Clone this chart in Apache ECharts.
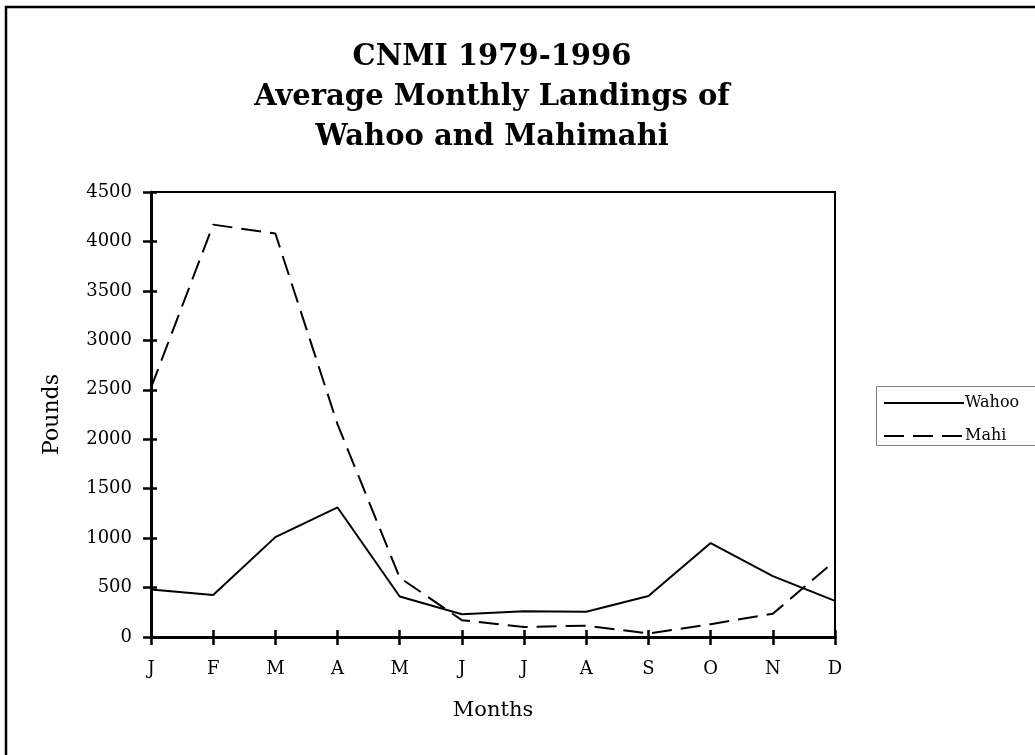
<!DOCTYPE html>
<html>
<head>
<meta charset="utf-8">
<script src="https://cdn.jsdelivr.net/npm/echarts@6/dist/echarts.min.js"></script>
</head>
<body style="margin:0;background:#fff">
<div id="main" style="width:1035px;height:755px;"></div>
<script type="text/javascript">
// data (pounds)
var months = ['J', 'F', 'M', 'A', 'M', 'J', 'J', 'A', 'S', 'O', 'N', 'D'];
var wahoo = [480, 425, 1010, 1310, 410, 230, 260, 255, 415, 950, 615, 365];
var mahi = [2520, 4170, 4080, 2150, 600, 170, 100, 115, 35, 130, 235, 770];
var yMin = 0, yMax = 4500, yStep = 500;

var chart = echarts.init(document.getElementById('main'));
var font = 'DejaVu Serif';

var option = {
    animation: false,
    backgroundColor: '#fff',
    title: {
        text: 'CNMI 1979-1996\nAverage Monthly Landings of\nWahoo and Mahimahi',
        left: 492,
        top: 37,
        padding: 0,
        textAlign: 'center',
        textStyle: {
            fontFamily: font,
            fontSize: 29,
            fontWeight: 'bold',
            lineHeight: 40,
            color: '#000'
        }
    },
    legend: {
        orient: 'vertical',
        left: 883,
        top: 395,
        padding: 0,
        itemWidth: 80,
        itemHeight: 14,
        itemGap: 17,
        itemStyle: { opacity: 0 },
        textStyle: { fontFamily: font, fontSize: 16, color: '#000', padding: [0, 0, 0, -4] },
        data: ['Wahoo', 'Mahi']
    },
    grid: {
        left: 151, right: 200, top: 192, bottom: 118,
        show: true,
        borderColor: '#000',
        borderWidth: 2
    },
    xAxis: [{
        type: 'category',
        data: months,
        boundaryGap: false,
        name: 'Months',
        nameLocation: 'middle',
        nameGap: 63,
        nameTextStyle: { fontFamily: font, fontSize: 21, color: '#000' },
        axisLine: { lineStyle: { color: '#000', width: 3 } },
        axisTick: { length: 8, interval: 0, lineStyle: { color: '#000', width: 2.5 } },
        axisLabel: { interval: 0, margin: 23, fontFamily: font, fontSize: 18, color: '#000' }
    }, {
        type: 'category',
        data: months,
        boundaryGap: false,
        position: 'bottom',
        axisLine: { show: false },
        axisTick: { inside: true, length: 7, interval: 0, lineStyle: { color: '#000', width: 2.5 } },
        axisLabel: { show: false }
    }],
    yAxis: [{
        type: 'value',
        min: yMin, max: yMax, interval: yStep,
        name: 'Pounds',
        nameLocation: 'middle',
        nameGap: 88,
        nameTextStyle: { fontFamily: font, fontSize: 22, color: '#000' },
        splitLine: { show: false },
        axisLine: { show: true, lineStyle: { color: '#000', width: 3 } },
        axisTick: { show: true, length: 8, lineStyle: { color: '#000', width: 2.5 } },
        axisLabel: {
            margin: 19, fontFamily: font, fontSize: 18, color: '#000',
            formatter: function (v) { return String(v); }
        }
    }, {
        type: 'value',
        min: yMin, max: yMax, interval: yStep,
        position: 'left',
        splitLine: { show: false },
        axisLine: { show: false },
        axisTick: { show: true, inside: true, length: 6, lineStyle: { color: '#000', width: 2.5 } },
        axisLabel: { show: false }
    }],
    series: [{
        name: 'Wahoo',
        type: 'line',
        data: wahoo,
        symbol: 'none',
        color: '#000',
        lineStyle: { color: '#000', width: 2 }
    }, {
        name: 'Mahi',
        type: 'line',
        data: mahi,
        symbol: 'none',
        color: '#000',
        lineStyle: { color: '#000', width: 2, type: [20, 9] }
    }],
    graphic: [{
        type: 'rect',
        shape: { x: 6, y: 7, width: 1200, height: 900 },
        style: { fill: 'none', stroke: '#000', lineWidth: 2.5 },
        silent: true
    }, {
        type: 'rect',
        shape: { x: 876.5, y: 386.5, width: 200, height: 59 },
        style: { fill: 'none', stroke: '#808080', lineWidth: 1 },
        silent: true
    }]
};

chart.setOption(option);
</script>
</body>
</html>
